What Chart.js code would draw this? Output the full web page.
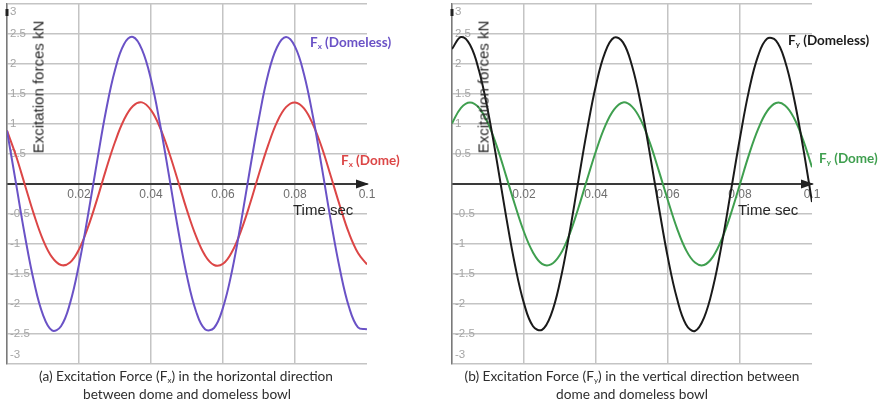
<!DOCTYPE html>
<html>
<head>
<meta charset="utf-8">
<script src="https://cdn.jsdelivr.net/npm/chart.js@4"></script>
<style>
  html, body { margin: 0; padding: 0; background: #fff; }
  body { width: 882px; height: 408px; position: relative; overflow: hidden; }
  .panel { position: absolute; top: 0; width: 441px; height: 372px; }
  .panel canvas { position: absolute; left: 0; top: 0; }
  .ytitle { position: absolute; font: 15px "Liberation Sans", Arial, sans-serif; color: #262626;
            white-space: nowrap; transform: translate(-50%, -50%) rotate(-90deg); }
  .xtitle { position: absolute; font: 15px "Liberation Sans", Arial, sans-serif; color: #262626;
            white-space: nowrap; transform: translateY(-50%); }
  .slabel { position: absolute; font: bold 13.5px Lato, "Open Sans", sans-serif; white-space: nowrap;
            transform: translateY(-50%); }
  .slabel sub { font-size: 8px; vertical-align: -2px; }
  .caption { position: absolute; font: 13.7px Lato, "Open Sans", sans-serif; color: #2e2e2e; white-space: nowrap;
             transform: translateX(-50%); }
  .caption sub { font-size: 8px; vertical-align: -2px; }
</style>
</head>
<body>
<div class="panel" style="left:0"><canvas id="c1" width="441" height="372"></canvas></div>
<div class="panel" style="left:445px"><canvas id="c2" width="441" height="372"></canvas></div>

<div class="ytitle" style="left:38px; top:87px">Excitation forces kN</div>
<div class="ytitle" style="left:483px; top:87px">Excitation forces kN</div>
<div class="xtitle" style="left:293px; top:209px">Time sec</div>
<div class="xtitle" style="left:738px; top:209px">Time sec</div>

<div class="slabel" style="left:310px; top:42px; color:#6a52c6">F<sub>x</sub> (Domeless)</div>
<div class="slabel" style="left:341px; top:160px; color:#dc4646">F<sub>x</sub> (Dome)</div>
<div class="slabel" style="left:788px; top:40px; color:#1a1a1a">F<sub>y</sub> (Domeless)</div>
<div class="slabel" style="left:819px; top:158px; color:#3f9f4f">F<sub>y</sub> (Dome)</div>

<div class="caption" style="left:186px; top:367px">(a) Excitation Force (F<sub>x</sub>) in the horizontal direction</div>
<div class="caption" style="left:187px; top:385px">between dome and domeless bowl</div>
<div class="caption" style="left:632px; top:367px">(b) Excitation Force (F<sub>y</sub>) in the vertical direction between</div>
<div class="caption" style="left:632px; top:385px">dome and domeless bowl</div>

<script>
// ---- data ----
const time = [0, 0.0025, 0.005, 0.0075, 0.01, 0.0125, 0.015, 0.0175, 0.02, 0.0225,
  0.025, 0.0275, 0.03, 0.0325, 0.035, 0.0375, 0.04, 0.0425, 0.045, 0.0475,
  0.05, 0.0525, 0.055, 0.0575, 0.06, 0.0625, 0.065, 0.0675, 0.07, 0.0725,
  0.075, 0.0775, 0.08, 0.0825, 0.085, 0.0875, 0.09, 0.0925, 0.095, 0.0975, 0.1];

const fxDomeless = [0.89, 0.01, -0.87, -1.63, -2.18, -2.44, -2.37, -1.99, -1.34, -0.52,
  0.37, 1.22, 1.90, 2.33, 2.45, 2.24, 1.74, 1.00, 0.14, -0.75,
  -1.54, -2.12, -2.42, -2.40, -2.06, -1.45, -0.64, 0.25, 1.10, 1.82,
  2.28, 2.45, 2.29, 1.83, 1.12, 0.26, -0.63, -1.43, -2.05, -2.39, -2.42];

const fxDome = [0.89, 0.47, -0.02, -0.51, -0.93, -1.22, -1.35, -1.31, -1.09, -0.72,
  -0.26, 0.24, 0.70, 1.07, 1.30, 1.36, 1.23, 0.94, 0.53, 0.05,
  -0.44, -0.87, -1.19, -1.35, -1.33, -1.13, -0.78, -0.33, 0.17, 0.64,
  1.03, 1.28, 1.36, 1.26, 0.99, 0.60, 0.12, -0.37, -0.82, -1.15, -1.34];

const fyDomeless = [2.25, 2.45, 2.32, 1.89, 1.21, 0.37, -0.53, -1.35, -1.99, -2.37,
  -2.43, -2.18, -1.63, -0.86, 0.02, 0.89, 1.65, 2.19, 2.44, 2.36,
  1.97, 1.32, 0.49, -0.40, -1.24, -1.91, -2.34, -2.45, -2.23, -1.72,
  -0.98, -0.11, 0.77, 1.56, 2.13, 2.42, 2.39, 2.05, 1.43, 0.62, -0.30];

const fyDome = [1.01, 1.27, 1.36, 1.27, 1.01, 0.62, 0.14, -0.35, -0.80, -1.14,
  -1.33, -1.34, -1.18, -0.86, -0.42, 0.07, 0.55, 0.96, 1.24, 1.36,
  1.29, 1.06, 0.68, 0.21, -0.28, -0.74, -1.10, -1.31, -1.35, -1.21,
  -0.91, -0.49, 0.00, 0.49, 0.91, 1.21, 1.35, 1.31, 1.10, 0.74, 0.28];

const xMin = 0, xMax = 0.1, xStep = 0.02;
const yMin = -3, yMax = 3, yStep = 0.5;

// ---- helpers ----
function pts(ys) { return time.map((t, i) => ({ x: t, y: ys[i] })); }

const axisDecor = {
  id: 'axisDecor',
  beforeDraw(chart) {
    const s = chart.scales.y;
    const items = s.getLabelItems(chart.chartArea);
    items.forEach(it => {
      if (it.label === '3') it.options.translation[1] += 8;
      if (it.label === '-3') it.options.translation[1] -= 9;
    });
  },
  afterDraw(chart) {
    const ctx = chart.ctx, a = chart.chartArea;
    const y0 = chart.scales.y.getPixelForValue(0);
    ctx.save();
    ctx.fillStyle = '#222';
    ctx.beginPath();
    ctx.moveTo(a.right + 2, y0);
    ctx.lineTo(a.right - 11, y0 - 4.5);
    ctx.lineTo(a.right - 11, y0 + 4.5);
    ctx.closePath();
    ctx.fill();
    ctx.fillRect(a.left - 1.5, a.top + 5, 3, 7);
    ctx.restore();
  }
};

function makeChart(id, series) {
  return new Chart(document.getElementById(id), {
    type: 'line',
    data: {
      datasets: series.map(s => ({
        data: pts(s.values),
        borderColor: s.color,
        borderWidth: 2,
        pointRadius: 0,
        tension: 0.4,
        fill: false
      }))
    },
    options: {
      responsive: false,
      animation: false,
      devicePixelRatio: 1,
      layout: { padding: { left: 7, right: 74, top: 4, bottom: 8 } },
      plugins: { legend: { display: false }, tooltip: { enabled: false } },
      scales: {
        x: {
          type: 'linear',
          min: xMin, max: xMax,
          position: { y: 0 },
          afterFit(s) { s.paddingLeft = 0; s.paddingRight = 0; s.height = 0; },
          grid: {
            drawTicks: false,
            lineWidth: 1.5,
            color: c => (c.tick && c.tick.value > xMax - 1e-9) ? 'rgba(0,0,0,0)' : '#c4c4c4'
          },
          border: { display: true, color: '#3a3a3a', width: 2 },
          ticks: {
            stepSize: xStep,
            padding: 3,
            color: '#6e6e6e',
            font: { family: '"Liberation Sans", Arial, sans-serif', size: 12 },
            maxRotation: 0,
            autoSkip: false,
            callback: v => (Math.abs(v) < 1e-9 ? '' : String(Number(v.toFixed(2))))
          }
        },
        y: {
          type: 'linear',
          min: yMin, max: yMax,
          position: 'left',
          afterFit(s) { s.width = 0; s.paddingTop = 0; s.paddingBottom = 0; },
          grid: { drawTicks: false, lineWidth: 1.5, color: '#c4c4c4' },
          border: { display: true, color: '#7a7a7a', width: 1.5 },
          ticks: {
            stepSize: yStep,
            mirror: true,
            padding: 3,
            color: '#a5a5a5',
            font: { family: '"Liberation Sans", Arial, sans-serif', size: 11.5 },
            autoSkip: false,
            callback: v => (Math.abs(v) < 1e-9 ? '' : String(v))
          }
        }
      }
    },
    plugins: [axisDecor]
  });
}

makeChart('c1', [
  { values: fxDomeless, color: '#6a52c6' },
  { values: fxDome, color: '#dc4646' }
]);
makeChart('c2', [
  { values: fyDomeless, color: '#1a1a1a' },
  { values: fyDome, color: '#3f9f4f' }
]);
</script>
</body>
</html>
